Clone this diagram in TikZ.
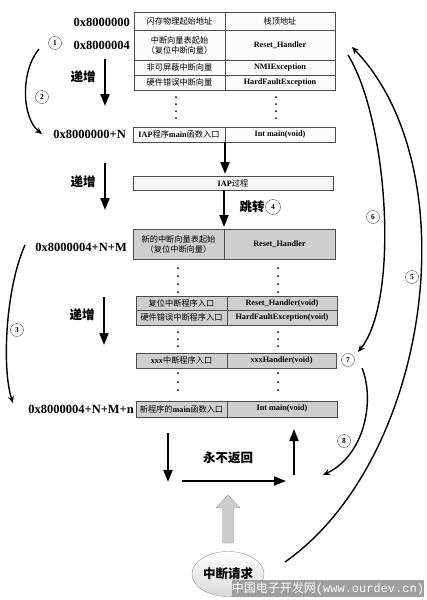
\documentclass[tikz,border=0pt]{standalone}
\usepackage{fontspec}
\setmainfont{Liberation Serif}
\newfontfamily\cjk{Noto Sans CJK SC}
\newfontfamily\wmono{Liberation Mono}
\newcommand\zh[1]{{\cjk\mdseries #1}}
\usetikzlibrary{arrows.meta,shapes.geometric}

\tikzset{
  cell/.style 2 args={draw=black!70, line width=0.6pt, inner sep=0pt, outer sep=0pt,
    minimum width=#1, minimum height=#2, align=center,
    font=\fontsize{8.2}{10}\selectfont\bfseries},
  wcell/.style 2 args={cell={#1}{#2}, fill=gray!3},
  gcell/.style 2 args={cell={#1}{#2}, fill=gray!38},
  addr/.style={anchor=east, inner sep=0pt, font=\fontsize{12.5}{14}\selectfont\bfseries},
  lab/.style={inner sep=0pt, font=\cjk\fontsize{12.5}{14}\selectfont\bfseries},
  num/.style={circle, draw=black!70, fill=white, minimum size=13pt, inner sep=0pt,
    font=\fontsize{7.5}{8}\selectfont\bfseries},
  bigarrow/.style={line width=1.8pt, -{Triangle[length=12pt,width=9pt]}},
  jump/.style={line width=1.4pt, -{Stealth[length=7pt,width=6pt]}}
}

\begin{document}
\begin{tikzpicture}[x=1pt,y=-1pt]
	\useasboundingbox (0,0) rectangle (427,600);

	% old vector table
	\node[wcell={91pt}{18pt}]  (r1L) at (179.5, 21)   {\zh{闪存物理起始地址}};
	\node[wcell={110pt}{18pt}] (r1R) at (280,   21)   {\zh{栈顶地址}};
	\node[wcell={91pt}{30pt}]  (r2L) at (179.5, 45)   {\zh{中断向量表起始}\\\zh{（复位中断向量）}};
	\node[wcell={110pt}{30pt}] (r2R) at (280,   45)   {Reset\_Handler};
	\node[wcell={91pt}{15pt}]  (r3L) at (179.5, 67.5) {\zh{非可屏蔽中断向量}};
	\node[wcell={110pt}{15pt}] (r3R) at (280,   67.5) {NMIException};
	\node[wcell={91pt}{15pt}]  (r4L) at (179.5, 82.5) {\zh{硬件错误中断向量}};
	\node[wcell={110pt}{15pt}] (r4R) at (280,   82.5) {HardFaultException};

	\node[wcell={92pt}{15pt}]  (mL)  at (179,   134.5) {IAP\zh{程序}main\zh{函数入口}};
	\node[wcell={110pt}{15pt}] (mR)  at (280,   134.5) {Int main(void)};
	\node[wcell={200pt}{14pt}, fill=gray!8] (iap) at (233, 183) {IAP\zh{过程}};

	% new vector table
	\node[gcell={91pt}{30pt}]  (nL)  at (178.5, 244)    {\zh{新的中断向量表起始}\\\zh{（复位中断向量）}};
	\node[gcell={111pt}{30pt}] (nR)  at (279.5, 244)    {Reset\_Handler};
	\node[gcell={91pt}{14.5pt}]  (hL1) at (181.5, 303.25) {\zh{复位中断程序入口}};
	\node[gcell={110pt}{14.5pt}] (hR1) at (282,   303.25) {Reset\_Handler(void)};
	\node[gcell={91pt}{14.5pt}]  (hL2) at (181.5, 317.75) {\zh{硬件错误中断程序入口}};
	\node[gcell={110pt}{14.5pt}] (hR2) at (282,   317.75) {HardFaultException(void)};
	\node[gcell={91pt}{15pt}]  (xL)  at (181.5, 360.5)  {xxx\zh{中断程序入口}};
	\node[gcell={109pt}{15pt}] (xR)  at (281.5, 360.5)  {xxxHandler(void)};
	\node[gcell={91pt}{16pt}]  (nmL) at (181.5, 409)    {\zh{新程序的}main\zh{函数入口}};
	\node[gcell={110pt}{16pt}] (nmR) at (282,   409)    {Int main(void)};

	% dots between rows
	\foreach \x in {176,276} \foreach \y in {97,104,111,118} {\fill (\x,\y) circle (1pt);}
	\foreach \x in {178,278} \foreach \y in {268,276,284,292} {\fill (\x,\y) circle (1pt);}
	\foreach \x in {178,278} \foreach \y in {332,339,346, 373,382,390} {\fill (\x,\y) circle (1pt);}

	% addresses
	\node[addr] (a0) at (130, 22)  {0x8000000};
	\node[addr] (a1) at (130, 45)  {0x8000004};
	\node[addr] (a2) at (126, 134) {0x8000000+N};
	\node[addr] (a3) at (127, 247) {0x8000004+N+M};
	\node[addr] (a4) at (134, 409) {0x8000004+N+M+n};

	\node[lab] (inc1) at (83, 77)  {递增};
	\node[lab] (inc2) at (83, 182) {递增};
	\node[lab] (inc3) at (82, 315) {递增};
	\node[lab] (jmp)  at (252, 207) {跳转};
	\node[lab] (never) at (228, 458) {永不返回};

	% straight arrows
	\def\downs {1/105/59/106, 2/105/163/210, 3/104/297/345, 4/168/433/482} % list elements
	\foreach \n/\x/\ya/\yb in \downs
	{	\coordinate (d\n a) at (\x,\ya);
		\coordinate (d\n b) at (\x,\yb);
		\draw[bigarrow] (d\n a) -- (d\n b);
	}
	\draw[bigarrow, shorten >=2pt] (mL.south east) -- (mL.south east |- iap.north);
	\draw[bigarrow, shorten >=2pt] (iap.south -| nL.east) -- (nL.north east);
	\coordinate (rs) at (182,481);
	\coordinate (re) at (286,481);
	\coordinate (us) at (294,475);
	\coordinate (ue) at (294,429);
	\draw[bigarrow] (rs) -- (re);
	\draw[bigarrow] (us) -- (ue);

	% jumps
	\coordinate (j1s) at (39,49);   \coordinate (j1e) at (42,134);
	\coordinate (j3s) at (25,245);  \coordinate (j3e) at (13,403);
	\coordinate (j6s) at (348,55);  \coordinate (j6e) at (358,352);
	\coordinate (j5s) at (285,562); \coordinate (j5e) at (352,47);
	\coordinate (j8s) at (362,368); \coordinate (j8e) at (323,475);
	\draw[jump] (j1s) .. controls (20,72) and (22,118) .. (j1e);
	\draw[jump] (j3s) .. controls (5,290) and (2,370) .. (j3e);
	\draw[jump] (j6s) .. controls (388,120) and (400,300) .. (j6e);
	\draw[jump] (j5s) .. controls (430,460) and (470,170) .. (j5e);
	\draw[jump] (j8s) .. controls (375,400) and (365,455) .. (j8e);

	\node[num] (n1) at (55, 43)   {1};
	\node[num] (n2) at (42, 97)   {2};
	\node[num] (n3) at (17, 330)  {3};
	\node[num, minimum size=15pt] (n4) at (273, 207) {4};
	\node[num] (n5) at (412, 277) {5};
	\node[num] (n6) at (373, 217) {6};
	\node[num] (n7) at (348, 360) {7};
	\node[num] (n8) at (344, 441) {8};

	% interrupt request
	\draw[draw=gray!80, fill=gray!40] (222.5,543) -- (222.5,508) -- (216,508) -- (228,495)
		-- (240,508) -- (233.5,508) -- (233.5,543) -- cycle;
	\node[ellipse, draw=gray!80, top color=white, bottom color=gray!30, minimum width=72pt,
		minimum height=45pt, inner sep=0pt, font=\cjk\fontsize{12.5}{14}\selectfont\bfseries]
		(irq) at (228,574) {中断请求};

	\node[fill=gray!75, text=white, minimum width=190pt, minimum height=17pt, inner sep=0pt,
		font=\fontsize{12}{14}\selectfont\wmono] (wm) at (328,588.5) {\zh{中国电子开发网}(www.ourdev.cn)};
\end{tikzpicture}
\end{document}
